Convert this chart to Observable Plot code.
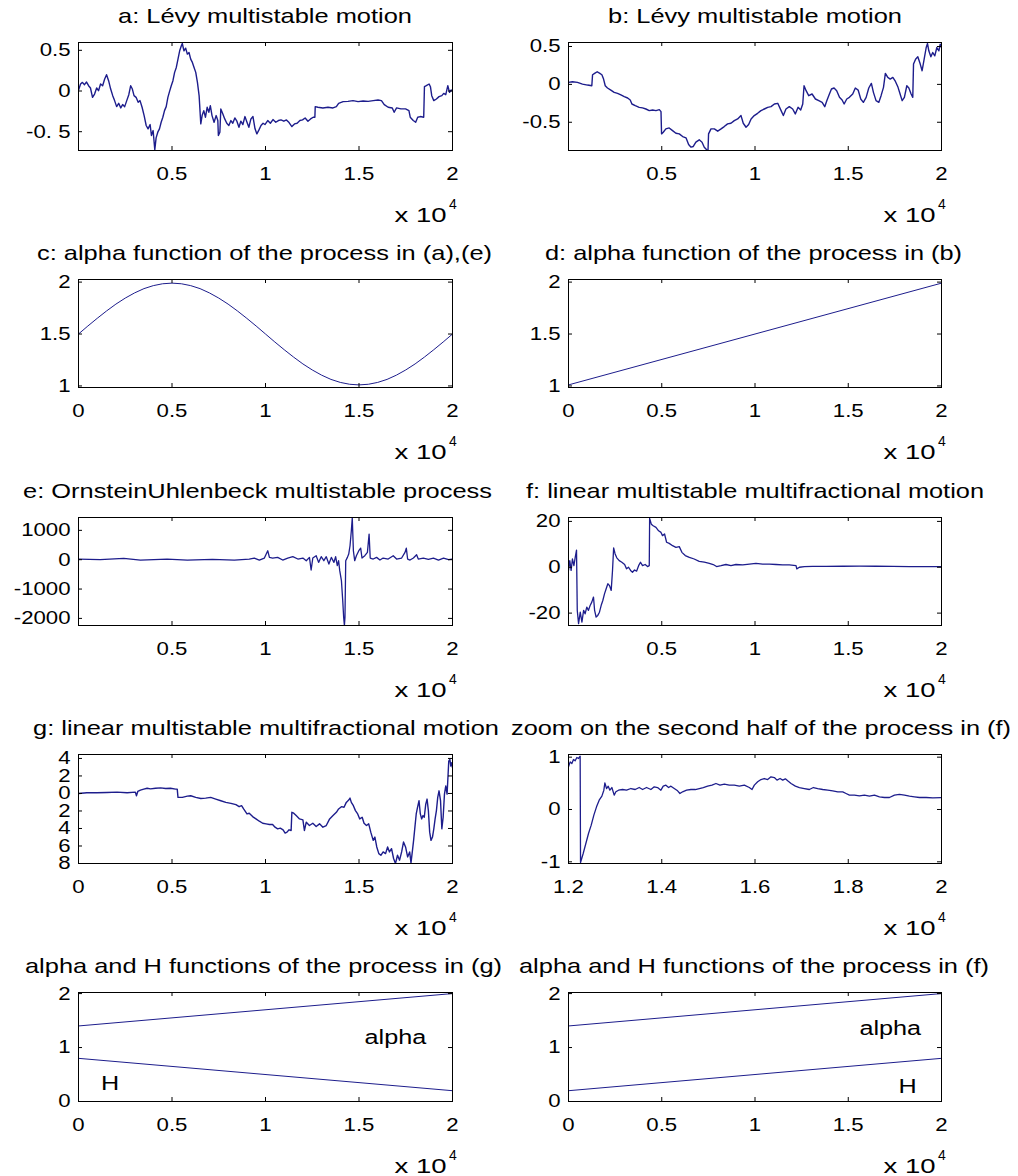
<!DOCTYPE html>
<html>
<head>
<meta charset="utf-8">
<script src="https://cdn.jsdelivr.net/npm/d3@7"></script>
<script src="https://cdn.jsdelivr.net/npm/@observablehq/plot@0.6"></script>
<style>
  html, body { margin: 0; padding: 0; background: #fff; }
  #fig { position: relative; width: 1018px; height: 1176px; overflow: hidden; background: #fff; }
  #fig svg { position: absolute; }
</style>
</head>
<body>
<div id="fig"></div>
<script>
// ---------------- data (x in units of 10^4) ----------------
const seriesA = [[0,0.01],[0.011,0.086],[0.021,0.106],[0.032,0.078],[0.043,0.11],[0.054,0.065],[0.064,0.037],[0.075,-0.078],[0.086,-0.037],[0.097,0.037],[0.107,0.004],[0.118,0.086],[0.129,0.065],[0.14,0.147],[0.15,0.2],[0.161,0.127],[0.172,0.024],[0.183,-0.057],[0.193,-0.118],[0.204,-0.192],[0.215,-0.151],[0.226,-0.208],[0.236,-0.167],[0.247,-0.192],[0.258,-0.118],[0.269,-0.045],[0.279,0.065],[0.288,0.024],[0.297,-0.057],[0.308,-0.078],[0.319,-0.139],[0.329,-0.118],[0.34,-0.2],[0.351,-0.302],[0.362,-0.424],[0.372,-0.465],[0.383,-0.412],[0.39,-0.547],[0.399,-0.486],[0.408,-0.722],[0.415,-0.576],[0.424,-0.506],[0.433,-0.465],[0.442,-0.384],[0.451,-0.322],[0.46,-0.241],[0.469,-0.192],[0.478,-0.078],[0.487,-0.004],[0.496,0.065],[0.505,0.127],[0.514,0.229],[0.523,0.29],[0.532,0.392],[0.541,0.494],[0.55,0.555],[0.555,0.584],[0.564,0.494],[0.573,0.527],[0.582,0.453],[0.591,0.473],[0.6,0.392],[0.609,0.351],[0.618,0.29],[0.627,0.229],[0.636,0.106],[0.645,-0.057],[0.654,-0.404],[0.661,-0.302],[0.67,-0.241],[0.679,-0.322],[0.688,-0.2],[0.697,-0.261],[0.705,-0.18],[0.714,-0.302],[0.725,-0.384],[0.736,-0.302],[0.745,-0.363],[0.748,-0.547],[0.756,-0.506],[0.761,-0.22],[0.772,-0.282],[0.782,-0.343],[0.793,-0.396],[0.804,-0.424],[0.815,-0.363],[0.825,-0.396],[0.836,-0.331],[0.847,-0.371],[0.858,-0.445],[0.868,-0.371],[0.879,-0.412],[0.89,-0.314],[0.901,-0.384],[0.911,-0.445],[0.922,-0.343],[0.933,-0.314],[0.944,-0.465],[0.954,-0.527],[0.965,-0.478],[0.976,-0.424],[0.987,-0.396],[0.997,-0.412],[1.012,-0.363],[1.026,-0.396],[1.04,-0.351],[1.055,-0.384],[1.069,-0.363],[1.083,-0.355],[1.098,-0.371],[1.112,-0.355],[1.126,-0.388],[1.141,-0.437],[1.155,-0.404],[1.169,-0.396],[1.184,-0.363],[1.198,-0.355],[1.212,-0.331],[1.227,-0.371],[1.241,-0.343],[1.255,-0.322],[1.264,-0.322],[1.266,-0.192],[1.28,-0.2],[1.307,-0.208],[1.334,-0.2],[1.361,-0.208],[1.379,-0.192],[1.391,-0.151],[1.415,-0.131],[1.441,-0.127],[1.468,-0.118],[1.495,-0.131],[1.522,-0.122],[1.549,-0.127],[1.576,-0.118],[1.602,-0.11],[1.62,-0.118],[1.635,-0.167],[1.656,-0.2],[1.678,-0.208],[1.688,-0.261],[1.701,-0.208],[1.724,-0.22],[1.749,-0.22],[1.767,-0.241],[1.774,-0.322],[1.79,-0.363],[1.803,-0.384],[1.814,-0.322],[1.828,-0.314],[1.846,-0.322],[1.85,0.053],[1.86,0.065],[1.875,0.086],[1.882,0.053],[1.889,-0.057],[1.9,-0.118],[1.914,-0.098],[1.928,-0.069],[1.943,-0.057],[1.953,-0.029],[1.964,-0.045],[1.975,0.065],[1.984,-0.016],[1.993,0.012],[2,-0.004]];

const seriesB = [[0,0.026],[0.021,0.035],[0.048,0.026],[0.075,0.004],[0.102,-0.009],[0.125,-0.018],[0.129,0.127],[0.14,0.145],[0.154,0.167],[0.168,0.145],[0.179,0.127],[0.188,0.07],[0.197,-0.018],[0.209,-0.048],[0.227,-0.075],[0.245,-0.105],[0.263,-0.118],[0.281,-0.14],[0.299,-0.162],[0.317,-0.18],[0.331,-0.206],[0.34,-0.259],[0.358,-0.281],[0.379,-0.303],[0.397,-0.311],[0.415,-0.325],[0.433,-0.346],[0.451,-0.338],[0.469,-0.346],[0.487,-0.333],[0.496,-0.36],[0.499,-0.654],[0.508,-0.632],[0.522,-0.588],[0.54,-0.575],[0.558,-0.61],[0.576,-0.645],[0.594,-0.654],[0.612,-0.689],[0.63,-0.706],[0.644,-0.794],[0.657,-0.829],[0.669,-0.82],[0.683,-0.763],[0.701,-0.732],[0.716,-0.763],[0.728,-0.829],[0.741,-0.864],[0.748,-0.873],[0.751,-0.654],[0.764,-0.588],[0.782,-0.588],[0.8,-0.618],[0.818,-0.588],[0.835,-0.557],[0.853,-0.522],[0.871,-0.513],[0.889,-0.478],[0.907,-0.456],[0.925,-0.412],[0.937,-0.513],[0.952,-0.566],[0.966,-0.531],[0.979,-0.456],[0.996,-0.412],[1.014,-0.382],[1.032,-0.346],[1.05,-0.325],[1.068,-0.303],[1.086,-0.294],[1.104,-0.259],[1.122,-0.25],[1.14,-0.346],[1.152,-0.412],[1.166,-0.325],[1.184,-0.294],[1.202,-0.325],[1.216,-0.39],[1.231,-0.303],[1.245,-0.338],[1.256,-0.259],[1.263,-0.018],[1.274,-0.083],[1.288,-0.149],[1.306,-0.127],[1.324,-0.193],[1.342,-0.215],[1.36,-0.237],[1.374,-0.294],[1.385,-0.215],[1.399,-0.127],[1.41,-0.061],[1.424,-0.048],[1.438,-0.083],[1.453,-0.171],[1.467,-0.206],[1.478,-0.259],[1.492,-0.193],[1.506,-0.171],[1.524,-0.127],[1.538,-0.048],[1.553,-0.075],[1.567,-0.193],[1.581,-0.237],[1.596,-0.171],[1.61,-0.048],[1.624,0.013],[1.635,-0.105],[1.649,-0.215],[1.664,-0.237],[1.676,-0.149],[1.689,-0.039],[1.699,0.145],[1.712,0.092],[1.725,0.07],[1.739,0.092],[1.753,0.039],[1.767,-0.039],[1.778,-0.127],[1.789,-0.215],[1.801,-0.171],[1.814,-0.018],[1.825,-0.048],[1.837,-0.127],[1.846,-0.171],[1.85,0.268],[1.861,0.333],[1.873,0.364],[1.886,0.268],[1.896,0.18],[1.907,0.333],[1.918,0.487],[1.925,0.539],[1.932,0.443],[1.943,0.364],[1.953,0.421],[1.964,0.377],[1.975,0.487],[1.986,0.443],[1.993,0.531],[2,0.487]];

const seriesC = [[0,1.5],[0.05,1.577],[0.1,1.651],[0.15,1.722],[0.2,1.788],[0.25,1.846],[0.3,1.896],[0.35,1.937],[0.4,1.966],[0.45,1.984],[0.5,1.99],[0.55,1.984],[0.6,1.966],[0.65,1.937],[0.7,1.896],[0.75,1.846],[0.8,1.788],[0.85,1.722],[0.9,1.651],[0.95,1.577],[1,1.5],[1.05,1.423],[1.1,1.349],[1.15,1.278],[1.2,1.212],[1.25,1.154],[1.3,1.104],[1.35,1.063],[1.4,1.034],[1.45,1.016],[1.5,1.01],[1.55,1.016],[1.6,1.034],[1.65,1.063],[1.7,1.104],[1.75,1.154],[1.8,1.212],[1.85,1.278],[1.9,1.349],[1.95,1.423],[2,1.5]];

const seriesD = [[0,1.01],[2,1.99]];

const seriesE = [[0,23],[0.116,0],[0.242,45],[0.331,-11],[0.474,23],[0.582,-11],[0.716,11],[0.833,-11],[0.913,23],[0.94,57],[0.967,-11],[0.994,57],[1.012,306],[1.021,79],[1.038,57],[1.065,79],[1.092,-11],[1.119,57],[1.146,102],[1.173,23],[1.2,57],[1.218,-34],[1.235,79],[1.244,-351],[1.253,57],[1.271,136],[1.284,-91],[1.298,102],[1.312,-34],[1.325,102],[1.339,-147],[1.352,79],[1.366,-91],[1.375,102],[1.384,-204],[1.391,-34],[1.397,-374],[1.406,-713],[1.413,-1393],[1.418,-1959],[1.422,-2242],[1.425,-1959],[1.429,-34],[1.438,79],[1.445,193],[1.452,476],[1.459,985],[1.464,1430],[1.47,306],[1.477,-34],[1.486,136],[1.499,306],[1.509,396],[1.516,57],[1.531,136],[1.545,249],[1.554,872],[1.56,57],[1.576,23],[1.594,79],[1.612,-11],[1.629,57],[1.656,23],[1.683,136],[1.701,23],[1.728,57],[1.746,249],[1.753,396],[1.76,23],[1.773,-11],[1.791,57],[1.808,170],[1.817,23],[1.844,57],[1.871,11],[1.898,57],[1.925,-11],[1.952,57],[1.979,0],[2,23]];

const seriesF = [[0,-1.4],[0.007,2.9],[0.014,-1.4],[0.021,3.6],[0.029,0.7],[0.036,4.3],[0.043,7.5],[0.047,-18.8],[0.054,-24.6],[0.063,-19.6],[0.072,-23.9],[0.081,-18.8],[0.089,-20.3],[0.098,-17.4],[0.107,-18.8],[0.116,-16.7],[0.125,-15.2],[0.134,-13],[0.14,-18.8],[0.148,-21.7],[0.157,-21],[0.166,-19.6],[0.175,-16.7],[0.184,-14.5],[0.193,-11.6],[0.202,-9.4],[0.211,-7.2],[0.22,-8],[0.229,-10.1],[0.236,-1.4],[0.242,8.4],[0.25,5.8],[0.259,4.1],[0.272,2.9],[0.286,2.2],[0.301,1.2],[0.311,-0.7],[0.322,0],[0.333,-1.4],[0.343,-2.2],[0.354,-1.2],[0.365,-1.7],[0.376,0.7],[0.386,2.2],[0.397,0.7],[0.411,1.2],[0.424,0.3],[0.433,0.7],[0.435,21.3],[0.444,18.8],[0.454,18.1],[0.469,17.4],[0.483,15.9],[0.496,15.2],[0.504,13.8],[0.515,14.5],[0.526,10.9],[0.54,10.4],[0.558,9.4],[0.576,8.7],[0.594,9],[0.608,6.5],[0.626,5.1],[0.648,4.3],[0.674,3.6],[0.701,2.6],[0.728,2.2],[0.755,1.7],[0.776,1.2],[0.794,0.3],[0.818,0.7],[0.844,1.2],[0.871,0.7],[0.898,1.2],[0.934,1],[0.97,1.4],[1.005,1.7],[1.041,1.4],[1.077,1.4],[1.113,1.2],[1.148,1],[1.184,1],[1.22,0.7],[1.224,-0.7],[1.238,0],[1.265,0.3],[1.309,0.4],[1.381,0.4],[1.47,0.45],[1.56,0.5],[1.649,0.45],[1.739,0.35],[1.828,0.3],[1.918,0.25],[2,0.25]];

const seriesG = [[0,0],[0.045,0.08],[0.098,0.08],[0.152,0.11],[0.206,0.15],[0.26,0.08],[0.304,0.15],[0.31,-0.26],[0.317,0.23],[0.331,0.38],[0.349,0.49],[0.367,0.6],[0.385,0.53],[0.412,0.6],[0.439,0.64],[0.466,0.57],[0.492,0.6],[0.519,0.49],[0.528,0.49],[0.532,-0.45],[0.555,-0.45],[0.582,-0.3],[0.6,-0.26],[0.627,-0.45],[0.654,-0.57],[0.68,-0.53],[0.707,-0.45],[0.734,-0.64],[0.761,-0.83],[0.788,-1.02],[0.815,-1.13],[0.842,-1.28],[0.859,-1.51],[0.872,-1.4],[0.883,-1.77],[0.901,-2.34],[0.913,-2.26],[0.931,-2.64],[0.949,-2.91],[0.967,-3.17],[0.985,-3.4],[1.003,-3.47],[1.021,-3.55],[1.038,-3.55],[1.051,-3.85],[1.065,-4.04],[1.079,-3.96],[1.094,-4.15],[1.105,-4.53],[1.115,-4.42],[1.126,-4.15],[1.137,-4.23],[1.141,-2.15],[1.151,-2.26],[1.164,-2.53],[1.182,-2.91],[1.2,-3.02],[1.208,-4.23],[1.218,-3.28],[1.235,-3.66],[1.253,-3.4],[1.271,-3.77],[1.289,-3.47],[1.307,-3.85],[1.325,-3.66],[1.343,-2.91],[1.361,-2.53],[1.379,-2.15],[1.391,-1.77],[1.406,-1.51],[1.42,-1.58],[1.432,-1.02],[1.445,-0.75],[1.452,-0.53],[1.459,-1.02],[1.47,-1.4],[1.481,-1.96],[1.493,-2.34],[1.504,-2.91],[1.517,-2.72],[1.527,-3.4],[1.54,-3.66],[1.552,-3.47],[1.563,-4.42],[1.576,-5.36],[1.585,-4.98],[1.595,-6.11],[1.606,-6.87],[1.617,-7.06],[1.629,-6.68],[1.642,-6.87],[1.653,-6.11],[1.663,-6.68],[1.674,-6.3],[1.685,-7.43],[1.695,-8],[1.706,-7.06],[1.717,-7.62],[1.728,-6.68],[1.738,-5.55],[1.749,-6.11],[1.76,-7.25],[1.771,-6.68],[1.778,-7.92],[1.785,-6.68],[1.792,-5.36],[1.799,-3.85],[1.806,-2.34],[1.813,-1.58],[1.821,-0.83],[1.828,-2.34],[1.835,-2.91],[1.842,-2.53],[1.849,-2.72],[1.857,-1.21],[1.864,-0.64],[1.871,-1.96],[1.878,-4.42],[1.885,-5.36],[1.893,-4.98],[1.9,-4.04],[1.907,-2.91],[1.914,-1.96],[1.921,-0.45],[1.928,0.3],[1.936,-0.83],[1.943,-4.04],[1.95,-2.72],[1.957,-0.08],[1.964,0.87],[1.971,-0.08],[1.976,2],[1.98,3.7],[1.986,3.89],[1.991,3.13],[1.996,3.51],[2,2.94]];

const seriesH = [[1.2,0.815],[1.2036,0.91],[1.2072,0.879],[1.2107,0.955],[1.2143,0.93],[1.2179,0.994],[1.2215,0.975],[1.225,1.019],[1.2258,-1.013],[1.2315,-0.841],[1.2372,-0.65],[1.2429,-0.459],[1.2487,-0.299],[1.2544,-0.108],[1.2601,0.051],[1.2658,0.178],[1.2716,0.255],[1.2758,0.369],[1.278,0.51],[1.2816,0.401],[1.2852,0.446],[1.2887,0.369],[1.293,0.42],[1.298,0.274],[1.3016,0.338],[1.3073,0.369],[1.3159,0.382],[1.3245,0.369],[1.3338,0.401],[1.3431,0.382],[1.3517,0.42],[1.3589,0.382],[1.3674,0.42],[1.3767,0.382],[1.3839,0.433],[1.391,0.42],[1.3982,0.369],[1.4032,0.446],[1.4089,0.465],[1.4147,0.42],[1.4197,0.446],[1.4268,0.401],[1.434,0.357],[1.439,0.306],[1.4447,0.338],[1.4533,0.369],[1.4626,0.382],[1.4719,0.382],[1.4805,0.401],[1.4891,0.42],[1.4984,0.446],[1.5077,0.465],[1.5163,0.497],[1.5249,0.465],[1.5342,0.484],[1.5449,0.465],[1.5556,0.465],[1.5664,0.446],[1.5771,0.465],[1.5878,0.42],[1.5936,0.382],[1.5986,0.465],[1.6057,0.529],[1.6129,0.573],[1.62,0.592],[1.6272,0.573],[1.6343,0.624],[1.6415,0.611],[1.6472,0.561],[1.6537,0.592],[1.6594,0.561],[1.6651,0.586],[1.6701,0.548],[1.6773,0.497],[1.6866,0.446],[1.6952,0.42],[1.7059,0.401],[1.7166,0.382],[1.7252,0.42],[1.7345,0.401],[1.7453,0.382],[1.756,0.369],[1.7667,0.357],[1.7775,0.338],[1.7882,0.338],[1.7953,0.306],[1.8025,0.274],[1.8132,0.274],[1.824,0.261],[1.8347,0.274],[1.8454,0.255],[1.8562,0.274],[1.8669,0.242],[1.8776,0.229],[1.8884,0.229],[1.8991,0.274],[1.9098,0.287],[1.9206,0.274],[1.9313,0.255],[1.942,0.242],[1.9528,0.229],[1.9671,0.229],[1.9814,0.223],[2,0.229]];

const alphaG = [[0,1.4],[2,2]];
const hG = [[0,0.8],[2,0.2]];
const alphaF = [[0,1.4],[2,2]];
const hF = [[0,0.2],[2,0.8]];

const labelsI = [{x:1.53, y:1.19, t:"alpha"}, {x:0.12, y:0.33, t:"H"}];
const labelsJ = [{x:1.56, y:1.35, t:"alpha"}, {x:1.77, y:0.28, t:"H"}];

// tick values and labels
const ticksX4 = [0.5, 1, 1.5, 2];
const labelsX4 = ["0.5", "1", "1.5", "2"];
const ticksX5 = [0, 0.5, 1, 1.5, 2];
const labelsX5 = ["0", "0.5", "1", "1.5", "2"];
const ticksXH = [1.2, 1.4, 1.6, 1.8, 2];
const labelsXH = ["1.2", "1.4", "1.6", "1.8", "2"];
const ticksYA = [-0.5, 0, 0.5];   const labelsYA = ["-0. 5", "0", "0.5"];
const ticksYB = [-0.5, 0, 0.5];   const labelsYB = ["-0.5", "0", "0.5"];
const ticksYC = [1, 1.5, 2];      const labelsYC = ["1", "1.5", "2"];
const ticksYE = [-2000, -1000, 0, 1000]; const labelsYE = ["-2000", "-1000", "0", "1000"];
const ticksYF = [-20, 0, 20];     const labelsYF = ["-20", "0", "20"];
const ticksYG = [-8, -6, -4, -2, 0, 2, 4]; const labelsYG = ["8", "6", "4", "2", "0", "2", "4"];
const ticksYH = [-1, 0, 1];       const labelsYH = ["-1", "0", "1"];
const ticksYI = [0, 1, 2];        const labelsYI = ["0", "1", "2"];

const titles = [
  "a: Lévy multistable motion", "b: Lévy multistable motion",
  "c: alpha function of the process in (a),(e)", "d: alpha function of the process in (b)",
  "e: OrnsteinUhlenbeck multistable process", "f: linear multistable multifractional motion",
  "g: linear multistable multifractional motion", "zoom on the second half of the process in (f)",
  "alpha and H functions of the process in (g)", "alpha and H functions of the process in (f)"
];

// ---------------- layout ----------------
const LINE = "#1d1d8c";
const FONT = "'Liberation Sans', Arial, Helvetica, sans-serif";
const STRETCH = 1.2;
const colX = [[78, 452], [568, 941]];
const rowY = [[42, 150], [279, 387], [517, 625], [754, 863], [992, 1101]];
// title layout: left edge, width (px)
const titleBox = [[118,294],[608,294],[37,455],[545,417],[23,469],[526,458],[33,466],[511,500],[25,477],[519,470]];

const panels = [
  {c:0, r:0, series:[seriesA], sw:1.4, xd:[0,2], yd:[-0.731,0.596], xt:ticksX4, xl:labelsX4, yt:ticksYA, yl:labelsYA},
  {c:1, r:0, series:[seriesB], sw:1.4, xd:[0,2], yd:[-0.873,0.553], xt:ticksX4, xl:labelsX4, yt:ticksYB, yl:labelsYB},
  {c:0, r:1, series:[seriesC], sw:1, xd:[0,2], yd:[0.985,2.025], xt:ticksX5, xl:labelsX5, yt:ticksYC, yl:labelsYC},
  {c:1, r:1, series:[seriesD], sw:1, xd:[0,2], yd:[0.985,2.025], xt:ticksX5, xl:labelsX5, yt:ticksYC, yl:labelsYC},
  {c:0, r:2, series:[seriesE], sw:1.3, xd:[0,2], yd:[-2242,1438], xt:ticksX4, xl:labelsX4, yt:ticksYE, yl:labelsYE},
  {c:1, r:2, series:[seriesF], sw:1.3, xd:[0,2], yd:[-25.4,21.7], xt:ticksX4, xl:labelsX4, yt:ticksYF, yl:labelsYF},
  {c:0, r:3, series:[seriesG], sw:1.4, xd:[0,2], yd:[-8.0,4.45], xt:ticksX5, xl:labelsX5, yt:ticksYG, yl:labelsYG},
  {c:1, r:3, series:[seriesH], sw:1.3, xd:[1.2,2], yd:[-1.032,1.051], xt:ticksXH, xl:labelsXH, yt:ticksYH, yl:labelsYH},
  {c:0, r:4, series:[alphaG, hG], sw:1, xd:[0,2], yd:[0,2.02], xt:ticksX5, xl:labelsX5, yt:ticksYI, yl:labelsYI, labels:labelsI},
  {c:1, r:4, series:[alphaF, hF], sw:1, xd:[0,2], yd:[0,2.02], xt:ticksX5, xl:labelsX5, yt:ticksYI, yl:labelsYI, labels:labelsJ}
];

function stretchText(svg, k) {
  svg.querySelectorAll("text").forEach(t => {
    let tr = t.getAttribute("transform") || "";
    const x = t.getAttribute("x");
    if (x !== null && /^-?[\d.]+$/.test(x)) { tr += ` translate(${x},0)`; t.setAttribute("x", 0); }
    t.setAttribute("transform", tr + ` scale(${k},1)`);
  });
}

const fig = document.getElementById("fig");
const mL = 90, mR = 30, mT = 10, mB = 40;

panels.forEach((p, idx) => {
  const [x0, x1] = colX[p.c], [y0, y1] = rowY[p.r];
  const w = x1 - x0, h = y1 - y0;
  const xMap = new Map(p.xt.map((d, i) => [d, p.xl[i]]));
  const yMap = new Map(p.yt.map((d, i) => [d, p.yl[i]]));
  const marks = [];
  p.series.forEach(s => marks.push(Plot.line(s, {x: d => d[0], y: d => d[1], stroke: LINE, strokeWidth: p.sw, clip: true})));
  marks.push(Plot.tickX(p.xt, {x: d => d, insetTop: h - 4, stroke: "black"}));
  marks.push(Plot.tickX(p.xt, {x: d => d, insetBottom: h - 4, stroke: "black"}));
  marks.push(Plot.tickY(p.yt, {y: d => d, insetRight: w - 4, stroke: "black"}));
  marks.push(Plot.tickY(p.yt, {y: d => d, insetLeft: w - 4, stroke: "black"}));
  marks.push(Plot.axisX({ticks: p.xt, tickSize: 0, tickPadding: 16.5, tickFormat: d => xMap.get(d), label: null, fill: "black"}));
  marks.push(Plot.axisY({ticks: p.yt, tickSize: 0, tickPadding: 8, tickFormat: d => yMap.get(d), label: null, fill: "black"}));
  if (p.labels) marks.push(Plot.text(p.labels, {x: "x", y: "y", text: "t", textAnchor: "start", fontSize: 21, fill: "black"}));
  marks.push(Plot.frame({stroke: "black", strokeWidth: 1}));
  const svg = Plot.plot({
    width: w + mL + mR, height: h + mT + mB,
    marginLeft: mL, marginRight: mR, marginTop: mT, marginBottom: mB,
    x: {domain: p.xd}, y: {domain: p.yd},
    style: {fontFamily: FONT, fontSize: "18.5px", color: "black", background: "transparent", overflow: "visible"},
    marks
  });
  stretchText(svg, STRETCH);
  svg.style.left = (x0 - mL) + "px";
  svg.style.top = (y0 - mT) + "px";
  fig.appendChild(svg);
});

// overlay: titles and x10^4 multipliers
const ns = "http://www.w3.org/2000/svg";
const ov = d3.select(fig).append("svg").attr("width", 1018).attr("height", 1176)
  .style("left", "0px").style("top", "0px").style("pointer-events", "none")
  .attr("font-family", FONT).attr("fill", "black");
panels.forEach((p, idx) => {
  const [x0, x1] = colX[p.c], [y0, y1] = rowY[p.r];
  const [tl, tw] = titleBox[idx];
  ov.append("text").attr("x", tl).attr("y", y0 - 19.5).attr("font-size", 21)
    .attr("textLength", tw).attr("lengthAdjust", "spacingAndGlyphs").text(titles[idx]);
  ov.append("text").attr("x", x1 - 57.5).attr("y", y1 + 71.5).attr("font-size", 21)
    .attr("textLength", 52).attr("lengthAdjust", "spacingAndGlyphs").text("x 10");
  ov.append("text").attr("x", x1 - 3).attr("y", y1 + 59).attr("font-size", 14).text("4");
});
</script>
</body>
</html>
